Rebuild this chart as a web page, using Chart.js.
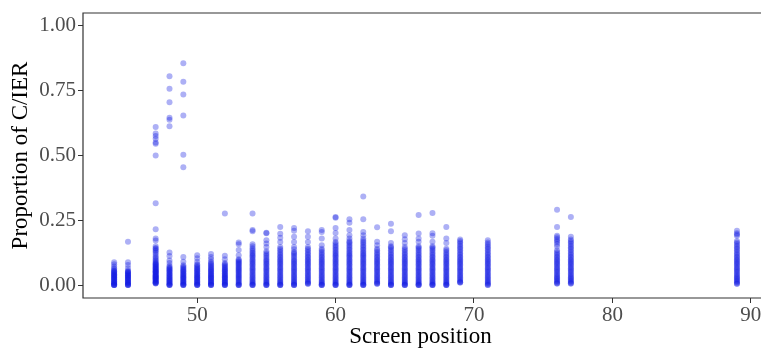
<!DOCTYPE html>
<html>
<head>
<meta charset="utf-8">
<script src="https://cdn.jsdelivr.net/npm/chart.js@4.4.1/dist/chart.umd.min.js"></script>
<style>
  html, body { margin: 0; padding: 0; background: #fff; overflow: hidden; }
  #wrap { width: 761px; height: 348px; }
</style>
</head>
<body>
<div id="wrap"><canvas id="screenChart" width="761" height="348"></canvas></div>
<script>
// Proportion of C/IER responses, one list per screen position
const pos44 = [0,0,0,0,0.003,0.006,0.008,0.01,0.012,0.015,0.017,0.02,0.022,0.025,0.027,0.03,0.032,0.035,0.038,0.04,0.042,0.045,0.048,0.05,0.053,0.055,0.06,0.065,0.072,0.08,0.088];
const pos45 = [0,0,0,0.002,0.005,0.008,0.01,0.012,0.015,0.018,0.02,0.022,0.025,0.028,0.03,0.033,0.035,0.038,0.04,0.043,0.045,0.048,0.05,0.052,0.055,0.065,0.077,0.088,0.167];
const pos47 = [0.006,0.007,0.008,0.01,0.012,0.013,0.016,0.018,0.02,0.022,0.024,0.026,0.028,0.03,0.032,0.034,0.036,0.038,0.04,0.043,0.045,0.048,0.05,0.05,0.053,0.055,0.058,0.06,0.063,0.065,0.068,0.07,0.073,0.075,0.078,0.08,0.083,0.086,0.09,0.095,0.1,0.105,0.11,0.118,0.125,0.13,0.135,0.14,0.143,0.15,0.172,0.18,0.215,0.316,0.50,0.545,0.55,0.565,0.575,0.585,0.61];
const pos48 = [0,0,0,0.003,0.006,0.009,0.012,0.015,0.018,0.02,0.023,0.026,0.03,0.033,0.036,0.04,0.043,0.046,0.05,0.053,0.056,0.06,0.063,0.066,0.07,0.074,0.085,0.095,0.112,0.126,0.613,0.638,0.646,0.706,0.758,0.806];
const pos49 = [0,0,0,0.003,0.006,0.009,0.012,0.015,0.018,0.021,0.024,0.027,0.03,0.033,0.036,0.04,0.043,0.046,0.05,0.053,0.056,0.06,0.064,0.068,0.072,0.076,0.09,0.108,0.455,0.503,0.654,0.735,0.785,0.856];
const pos50 = [0,0,0,0.003,0.006,0.009,0.012,0.015,0.018,0.021,0.024,0.027,0.03,0.033,0.036,0.04,0.043,0.046,0.05,0.053,0.057,0.06,0.064,0.068,0.072,0.076,0.08,0.09,0.103,0.115];
const pos51 = [0,0,0,0.003,0.006,0.009,0.012,0.015,0.018,0.021,0.024,0.027,0.03,0.033,0.036,0.04,0.043,0.046,0.05,0.053,0.057,0.06,0.064,0.068,0.072,0.076,0.08,0.085,0.09,0.1,0.108,0.12];
const pos52 = [0,0,0,0.003,0.006,0.009,0.012,0.015,0.018,0.021,0.024,0.027,0.03,0.033,0.036,0.04,0.043,0.046,0.05,0.053,0.057,0.06,0.064,0.068,0.072,0.076,0.08,0.085,0.1,0.113,0.276];
const pos53 = [0,0,0,0.004,0.008,0.012,0.016,0.02,0.024,0.028,0.032,0.036,0.04,0.044,0.048,0.052,0.056,0.06,0.064,0.068,0.072,0.076,0.08,0.084,0.088,0.092,0.096,0.1,0.115,0.135,0.157,0.164];
const pos54 = [0,0,0,0.004,0.008,0.012,0.016,0.02,0.025,0.03,0.035,0.04,0.045,0.05,0.055,0.06,0.065,0.07,0.075,0.08,0.085,0.09,0.095,0.1,0.105,0.11,0.115,0.12,0.125,0.13,0.136,0.142,0.15,0.157,0.208,0.212,0.276];
const pos55 = [0,0,0,0.004,0.008,0.012,0.016,0.02,0.025,0.03,0.035,0.04,0.045,0.05,0.055,0.06,0.065,0.07,0.075,0.08,0.085,0.09,0.095,0.1,0.106,0.112,0.118,0.124,0.13,0.147,0.16,0.173,0.2,0.202];
const pos56 = [0,0,0,0.004,0.008,0.012,0.016,0.02,0.025,0.03,0.035,0.04,0.045,0.05,0.055,0.06,0.065,0.07,0.075,0.08,0.085,0.09,0.095,0.1,0.105,0.11,0.116,0.122,0.128,0.134,0.14,0.147,0.166,0.183,0.198,0.224];
const pos57 = [0,0,0,0.004,0.008,0.012,0.016,0.02,0.025,0.03,0.035,0.04,0.045,0.05,0.055,0.06,0.065,0.07,0.075,0.08,0.085,0.09,0.095,0.1,0.106,0.112,0.118,0.124,0.128,0.138,0.147,0.166,0.186,0.21,0.22];
const pos58 = [0.005,0.005,0.008,0.012,0.016,0.02,0.025,0.03,0.035,0.04,0.045,0.05,0.055,0.06,0.065,0.07,0.075,0.08,0.085,0.09,0.095,0.1,0.105,0.11,0.116,0.122,0.128,0.134,0.14,0.147,0.166,0.186,0.208];
const pos59 = [0,0,0,0.004,0.008,0.012,0.016,0.02,0.025,0.03,0.035,0.04,0.045,0.05,0.055,0.06,0.065,0.07,0.075,0.08,0.085,0.09,0.095,0.1,0.105,0.11,0.116,0.122,0.128,0.134,0.14,0.154,0.18,0.205,0.212];
const pos60 = [0,0,0,0.004,0.008,0.012,0.016,0.02,0.025,0.03,0.035,0.04,0.045,0.05,0.055,0.06,0.065,0.07,0.075,0.08,0.085,0.09,0.095,0.1,0.105,0.11,0.115,0.12,0.125,0.13,0.136,0.142,0.148,0.154,0.16,0.166,0.18,0.201,0.22,0.26,0.263];
const pos61 = [0,0,0,0.004,0.008,0.012,0.016,0.02,0.025,0.03,0.035,0.04,0.045,0.05,0.055,0.06,0.065,0.07,0.075,0.08,0.085,0.09,0.095,0.1,0.105,0.11,0.115,0.12,0.125,0.13,0.136,0.142,0.148,0.154,0.16,0.165,0.17,0.18,0.192,0.212,0.24,0.254];
const pos62 = [0,0,0,0.004,0.008,0.012,0.016,0.02,0.025,0.03,0.035,0.04,0.045,0.05,0.055,0.06,0.065,0.07,0.075,0.08,0.085,0.09,0.095,0.1,0.105,0.11,0.115,0.12,0.125,0.13,0.136,0.142,0.148,0.154,0.16,0.166,0.172,0.18,0.192,0.205,0.254,0.342];
const pos63 = [0.005,0.005,0.008,0.012,0.016,0.02,0.025,0.03,0.035,0.04,0.045,0.05,0.055,0.06,0.065,0.07,0.075,0.08,0.085,0.09,0.095,0.1,0.105,0.11,0.116,0.122,0.128,0.134,0.14,0.154,0.167,0.223];
const pos64 = [0,0,0,0.004,0.008,0.012,0.016,0.02,0.025,0.03,0.035,0.04,0.045,0.05,0.055,0.06,0.065,0.07,0.075,0.08,0.085,0.09,0.095,0.1,0.105,0.11,0.116,0.122,0.128,0.134,0.14,0.146,0.15,0.162,0.208,0.237];
const pos65 = [0,0,0,0.004,0.008,0.012,0.016,0.02,0.025,0.03,0.035,0.04,0.045,0.05,0.055,0.06,0.065,0.07,0.075,0.08,0.085,0.09,0.095,0.1,0.105,0.11,0.116,0.122,0.128,0.134,0.14,0.147,0.162,0.177,0.192];
const pos66 = [0,0,0,0.004,0.008,0.012,0.016,0.02,0.025,0.03,0.035,0.04,0.045,0.05,0.055,0.06,0.065,0.07,0.075,0.08,0.085,0.09,0.095,0.1,0.105,0.11,0.116,0.122,0.128,0.134,0.14,0.145,0.15,0.167,0.18,0.199,0.27];
const pos67 = [0,0,0,0.004,0.008,0.012,0.016,0.02,0.025,0.03,0.035,0.04,0.045,0.05,0.055,0.06,0.065,0.07,0.075,0.08,0.085,0.09,0.095,0.1,0.105,0.11,0.116,0.122,0.128,0.134,0.14,0.145,0.15,0.167,0.19,0.2,0.278];
const pos68 = [0,0,0,0.004,0.008,0.012,0.016,0.02,0.025,0.03,0.035,0.04,0.045,0.05,0.055,0.06,0.065,0.07,0.075,0.08,0.085,0.09,0.095,0.1,0.105,0.11,0.116,0.122,0.128,0.134,0.14,0.162,0.18,0.224];
const pos69 = [0.01,0.01,0.012,0.016,0.02,0.025,0.03,0.035,0.04,0.045,0.05,0.055,0.06,0.065,0.07,0.075,0.08,0.085,0.09,0.095,0.1,0.105,0.11,0.116,0.122,0.128,0.134,0.14,0.146,0.152,0.158,0.164,0.17,0.176];
const pos71 = [0,0,0.004,0.008,0.012,0.016,0.02,0.025,0.03,0.035,0.04,0.045,0.05,0.055,0.06,0.065,0.07,0.075,0.08,0.085,0.09,0.095,0.1,0.105,0.11,0.116,0.122,0.128,0.134,0.14,0.146,0.152,0.158,0.164,0.173];
const pos76 = [0.006,0.006,0.01,0.014,0.018,0.022,0.026,0.03,0.035,0.04,0.045,0.05,0.055,0.06,0.065,0.07,0.075,0.08,0.085,0.09,0.095,0.1,0.105,0.11,0.116,0.122,0.128,0.134,0.15,0.158,0.166,0.172,0.178,0.184,0.19,0.224,0.291];
const pos77 = [0.006,0.006,0.01,0.014,0.018,0.022,0.026,0.03,0.035,0.04,0.045,0.05,0.055,0.06,0.065,0.07,0.075,0.08,0.085,0.09,0.095,0.1,0.105,0.11,0.116,0.122,0.128,0.134,0.14,0.146,0.152,0.158,0.164,0.17,0.176,0.186,0.263];
const pos89 = [0.005,0.005,0.01,0.014,0.018,0.022,0.026,0.03,0.035,0.04,0.045,0.05,0.055,0.06,0.065,0.07,0.075,0.08,0.085,0.09,0.095,0.1,0.105,0.11,0.116,0.122,0.128,0.134,0.14,0.146,0.152,0.158,0.164,0.17,0.19,0.195,0.2,0.21];

const columns = [
  [44, pos44], [45, pos45], [47, pos47], [48, pos48], [49, pos49], [50, pos50],
  [51, pos51], [52, pos52], [53, pos53], [54, pos54], [55, pos55], [56, pos56],
  [57, pos57], [58, pos58], [59, pos59], [60, pos60], [61, pos61], [62, pos62],
  [63, pos63], [64, pos64], [65, pos65], [66, pos66], [67, pos67], [68, pos68],
  [69, pos69], [71, pos71], [76, pos76], [77, pos77], [89, pos89]
];

const xTicks = [50, 60, 70, 80, 90];
const yTicks = [0, 0.25, 0.5, 0.75, 1];

const points = [];
columns.forEach(([x, vals]) => vals.forEach(y => points.push({ x: x, y: y })));

const serif = 'Liberation Serif, "Times New Roman", serif';

// panel frame: top, left and bottom edges, carried out to the canvas edge;
// the strip right of the plot area is wiped so the panel looks open there
const panelBorder = {
  id: 'panelBorder',
  afterDraw(chart) {
    const { ctx, chartArea: a } = chart;
    const edge = chart.width + 2;
    ctx.save();
    ctx.fillStyle = '#fff';
    ctx.fillRect(a.right - 1, a.top + 2, edge - a.right, a.bottom - a.top - 4);
    ctx.strokeStyle = '#333';
    ctx.lineWidth = 1.2;
    ctx.beginPath();
    ctx.moveTo(edge, a.top);
    ctx.lineTo(a.left, a.top);
    ctx.lineTo(a.left, a.bottom);
    ctx.lineTo(edge, a.bottom);
    ctx.stroke();
    ctx.restore();
  }
};

const ctx = document.getElementById('screenChart').getContext('2d');
const screenChart = new Chart(ctx, {
  type: 'scatter',
  data: {
    datasets: [{
      data: points,
      backgroundColor: 'rgba(20,30,225,0.35)',
      borderWidth: 0,
      pointRadius: 3,
      pointHoverRadius: 3
    }]
  },
  options: {
    responsive: false,
    animation: false,
    devicePixelRatio: 1,
    layout: { padding: { top: 13, right: 0, left: 0, bottom: 0 } },
    plugins: {
      legend: { display: false },
      tooltip: { enabled: false }
    },
    scales: {
      x: {
        type: 'linear',
        min: 41.75,
        max: 90.52,
        afterBuildTicks: s => { s.ticks = xTicks.map(v => ({ value: v })); },
        afterFit: s => { s.height = 50; s.paddingLeft = 0; s.paddingRight = 0; },
        grid: { drawOnChartArea: false, tickLength: 5, color: '#333' },
        border: { display: false },
        ticks: { font: { family: serif, size: 21 }, color: '#4d4d4d', padding: 0, maxRotation: 0 },
        title: {
          display: true,
          text: 'Screen position',
          font: { family: serif, size: 23, lineHeight: 1 },
          color: '#000',
          padding: { top: 0, bottom: 0 }
        }
      },
      y: {
        min: -0.05,
        max: 1.05,
        afterBuildTicks: s => { s.ticks = yTicks.map(v => ({ value: v })); },
        afterFit: s => { s.width = 83; s.paddingTop = 0; s.paddingBottom = 0; },
        grid: { drawOnChartArea: false, tickLength: 5, color: '#333' },
        border: { display: false },
        ticks: {
          font: { family: serif, size: 21 },
          color: '#4d4d4d',
          padding: 2,
          callback: v => v.toFixed(2)
        },
        title: {
          display: true,
          text: 'Proportion of C/IER',
          font: { family: serif, size: 23, lineHeight: 1 },
          color: '#000',
          padding: { top: 9.5, bottom: 0 }
        }
      }
    }
  },
  plugins: [panelBorder]
});
</script>
</body>
</html>
